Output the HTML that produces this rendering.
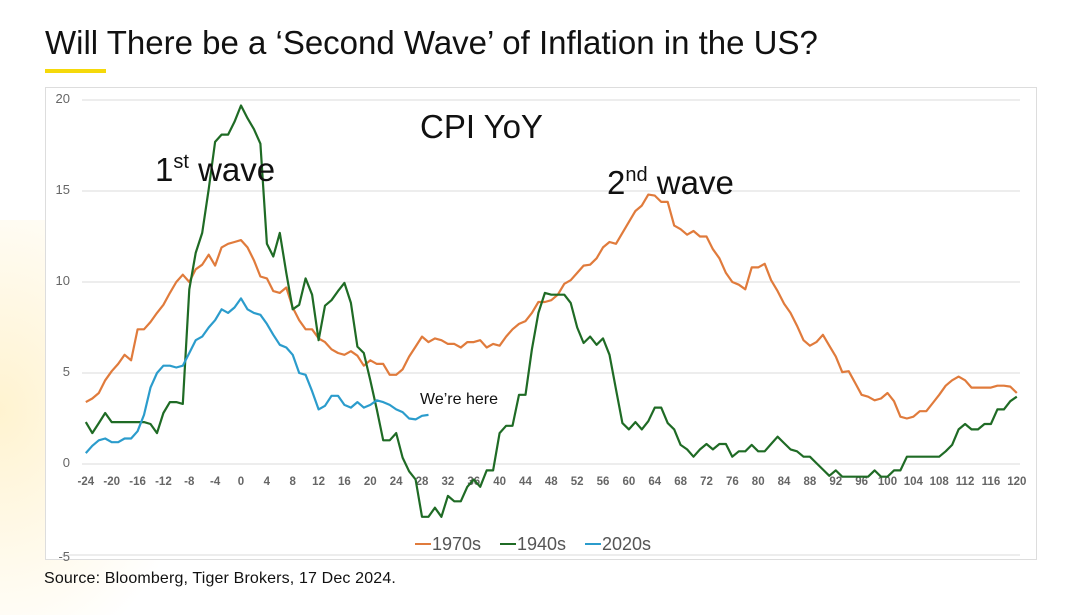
<!DOCTYPE html>
<html><head><meta charset="utf-8">
<style>
html,body{margin:0;width:1071px;height:615px;overflow:hidden}
body{background:#fff;font-family:"Liberation Sans",sans-serif;position:relative}
#bg{position:absolute;left:0;top:220px;width:260px;height:395px;background:radial-gradient(ellipse 200px 260px at 0px 190px,#fff3d0 0%,#fff9e8 50%,rgba(255,255,255,0) 100%)}
#title{position:absolute;left:45px;top:24px;font-size:33px;color:#111;white-space:nowrap}
#uline{position:absolute;left:45px;top:69px;width:61px;height:4px;background:#f5d90a}
#frame{position:absolute;left:45px;top:87px;width:990px;height:471px;border:1px solid #ddd;background:#fff}
#src{position:absolute;left:44px;top:570px;font-size:16px;color:#111;letter-spacing:0.15px}
svg{position:absolute;left:0;top:0}
</style></head><body>
<div id="bg"></div>
<div id="title">Will There be a ‘Second Wave’ of Inflation in the US?</div>
<div id="uline"></div>
<div id="frame"></div>
<div id="src">Source: Bloomberg, Tiger Brokers, 17 Dec 2024.</div>
<svg id="chart" width="1071" height="615">
<g id="grid"></g><g id="series"></g>
<text x="420" y="138" font-size="33" fill="#111">CPI YoY</text>
<text x="155" y="181" font-size="33" fill="#111">1<tspan font-size="20" dy="-13">st</tspan><tspan dy="13"> wave</tspan></text>
<text x="607" y="194" font-size="33" fill="#111">2<tspan font-size="20" dy="-13">nd</tspan><tspan dy="13"> wave</tspan></text>
<text x="420" y="404" font-size="16" fill="#111">We’re here</text>
<g font-size="18" fill="#555">
<line x1="415" y1="544" x2="431" y2="544" stroke="#e07b3c" stroke-width="2"/><text x="432" y="550">1970s</text>
<line x1="500" y1="544" x2="516" y2="544" stroke="#1f6b25" stroke-width="2"/><text x="517" y="550">1940s</text>
<line x1="585" y1="544" x2="601" y2="544" stroke="#2b9ccc" stroke-width="2"/><text x="602" y="550">2020s</text>
</g>
</svg>
<script>
const yTicks=[20,15,10,5,0,-5];
const xTicks=[-24,-20,-16,-12,-8,-4,0,4,8,12,16,20,24,28,32,36,40,44,48,52,56,60,64,68,72,76,80,84,88,92,96,100,104,108,112,116,120];
const s1970=[3.4,3.6,3.9,4.6,5.1,5.5,6.0,5.7,7.4,7.4,7.8,8.3,8.75,9.4,10.0,10.4,10.0,10.7,10.95,11.5,10.9,11.9,12.1,12.2,12.3,11.9,11.2,10.3,10.2,9.5,9.4,9.7,8.6,7.9,7.4,7.4,6.9,6.7,6.3,6.1,6.0,6.2,5.95,5.4,5.7,5.5,5.5,4.9,4.9,5.2,5.9,6.45,7.0,6.7,6.9,6.8,6.6,6.6,6.4,6.7,6.7,6.8,6.4,6.6,6.5,7.0,7.4,7.7,7.85,8.3,8.9,8.9,9.0,9.3,9.9,10.1,10.5,10.9,10.95,11.3,11.9,12.2,12.1,12.7,13.3,13.9,14.2,14.8,14.75,14.4,14.4,13.1,12.9,12.6,12.8,12.5,12.5,11.8,11.3,10.5,10.0,9.85,9.6,10.8,10.8,11.0,10.1,9.5,8.8,8.3,7.6,6.8,6.5,6.7,7.1,6.5,5.9,5.05,5.1,4.45,3.8,3.7,3.5,3.6,3.9,3.45,2.6,2.5,2.6,2.9,2.9,3.35,3.8,4.3,4.6,4.8,4.6,4.2,4.2,4.2,4.2,4.3,4.3,4.25,3.9];
const s1940=[2.3,1.7,2.25,2.8,2.3,2.3,2.3,2.3,2.3,2.3,2.2,1.7,2.8,3.4,3.4,3.3,9.6,11.6,12.7,15.1,17.7,18.1,18.1,18.8,19.7,19.0,18.4,17.6,12.1,11.4,12.7,10.5,8.5,8.75,10.2,9.3,6.8,8.7,9.0,9.5,9.95,8.85,6.45,6.1,4.6,3.0,1.3,1.3,1.7,0.35,-0.4,-0.85,-2.9,-2.9,-2.4,-2.9,-1.75,-2.05,-2.05,-1.25,-0.85,-1.25,-0.35,-0.35,1.7,2.1,2.1,3.8,3.8,6.3,8.3,9.4,9.3,9.3,9.3,8.85,7.5,6.65,7.0,6.55,6.9,6.0,4.1,2.25,1.9,2.3,1.9,2.35,3.1,3.1,2.25,1.9,1.05,0.8,0.4,0.8,1.1,0.8,1.1,1.1,0.4,0.7,0.7,1.05,0.7,0.7,1.1,1.5,1.15,0.8,0.7,0.4,0.4,0.05,-0.3,-0.65,-0.35,-0.7,-0.7,-0.7,-0.7,-0.7,-0.35,-0.7,-0.7,-0.35,-0.35,0.4,0.4,0.4,0.4,0.4,0.4,0.7,1.05,1.9,2.2,1.9,1.9,2.2,2.2,3.0,3.0,3.45,3.7];
const s2020=[0.6,1.0,1.3,1.4,1.2,1.2,1.4,1.4,1.8,2.7,4.2,5.0,5.4,5.4,5.3,5.4,6.1,6.8,7.0,7.5,7.9,8.5,8.3,8.6,9.1,8.5,8.3,8.2,7.7,7.1,6.55,6.4,6.0,5.0,4.9,4.0,3.0,3.2,3.75,3.75,3.25,3.1,3.4,3.1,3.25,3.5,3.4,3.25,3.0,2.85,2.5,2.45,2.65,2.7];
const startMonth=-24;
const NS="http://www.w3.org/2000/svg";
function xs(m){return 241+m*6.465;}
function ys(v){return 464-v*18.2;}
const grid=document.getElementById('grid');
yTicks.forEach(t=>{
  const l=document.createElementNS(NS,'line');
  
  
  l.setAttribute('x1',t===-5?62:82);l.setAttribute('x2',1020);
  l.setAttribute('y1',ys(t));l.setAttribute('y2',ys(t));
  l.setAttribute('stroke','#e2e2e2');l.setAttribute('stroke-width','1.3');
  grid.appendChild(l);
  const tx=document.createElementNS(NS,'text');
  
  
  tx.setAttribute('x',70);tx.setAttribute('y',ys(t)+(t===-5?6:3));
  tx.setAttribute('text-anchor','end');tx.setAttribute('font-size','13');tx.setAttribute('fill','#666');
  tx.textContent=t;grid.appendChild(tx);
});
xTicks.forEach(t=>{
  const tx=document.createElementNS(NS,'text');
  
  
  tx.setAttribute('x',xs(t));tx.setAttribute('y',485);
  tx.setAttribute('text-anchor','middle');tx.setAttribute('font-size','11.5');tx.setAttribute('font-weight','bold');tx.setAttribute('fill','#666');
  tx.textContent=t;grid.appendChild(tx);
});
const ser=document.getElementById('series');
function draw(arr,color,name){
  const p=document.createElementNS(NS,'polyline');
  
  
  p.setAttribute('points',arr.map((v,i)=>xs(startMonth+i).toFixed(1)+','+ys(v).toFixed(1)).join(' '));
  p.setAttribute('fill','none');p.setAttribute('stroke',color);p.setAttribute('stroke-width','2.2');p.setAttribute('stroke-linejoin','round');
  ser.appendChild(p);
}
draw(s1970,'#e07b3c','series-1970s');
draw(s1940,'#1f6b25','series-1940s');
draw(s2020,'#2b9ccc','series-2020s');
</script>
</body></html>
